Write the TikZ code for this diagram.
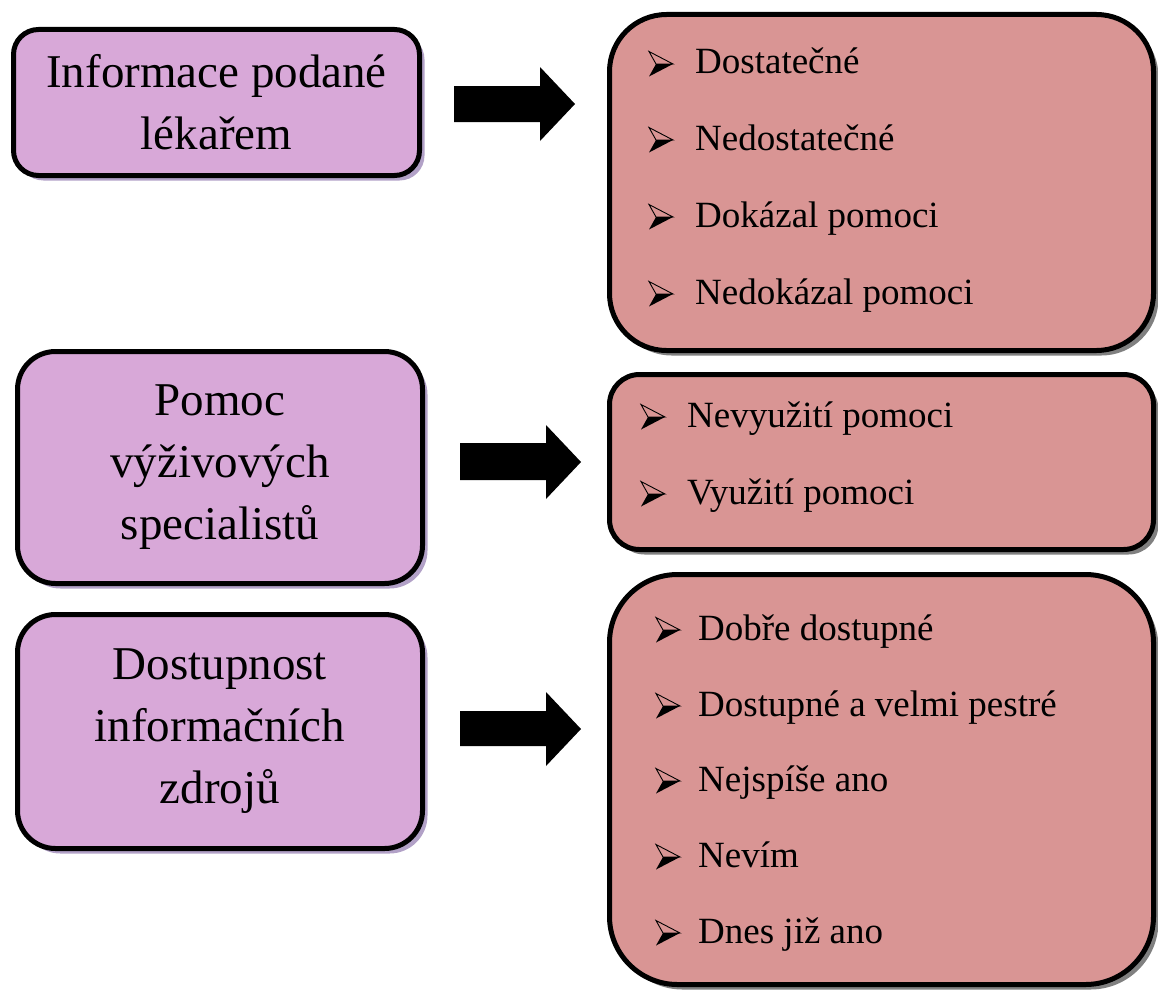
\documentclass[tikz,border=0pt]{standalone}
\usepackage{fontspec}
\setmainfont{Liberation Serif}
\usetikzlibrary{shadows}

\definecolor{topicfill}{HTML}{D8A8D8}
\definecolor{topicshadow}{HTML}{B2A1C7}
\definecolor{listfill}{HTML}{D99594}
\definecolor{listshadow}{HTML}{808080}

\tikzset{
  topic/.style={draw=black, line width=5pt, fill=topicfill, inner sep=0pt,
    align=center, font=\fontsize{47}{62}\selectfont,
    drop shadow={shadow xshift=5pt, shadow yshift=-5pt, fill=topicshadow, opacity=1}},
  listbox/.style={draw=black, line width=5pt, fill=listfill, inner sep=0pt,
    drop shadow={shadow xshift=5pt, shadow yshift=-5pt, fill=listshadow, opacity=1}},
  item/.style={anchor=base west, inner sep=0pt, font=\fontsize{37}{44}\selectfont},
  blockarrow/.style={fill=black, draw=none},
  % three-dimensional arrowhead bullet: lit upper half, dark lower half
  arrowhead/.pic={
    \draw[line width=0.9pt, line join=miter] (0,-12.5) -- (24,0) -- (7,0) -- cycle;
    \fill[black] (0,12.5) -- (24,0) -- (7,0) -- cycle;
  }
}

\begin{document}
\begin{tikzpicture}[x=1pt, y=-1pt]
\useasboundingbox (0,0) rectangle (1158,990);

% topics on the left
\node[topic, minimum width=406pt, minimum height=146pt, rounded corners=25pt]
  (t1) at (216.5,102.5) {Informace podané\\lékařem};
\node[topic, minimum width=405pt, minimum height=232pt, rounded corners=38pt]
  (t2) at (220,467.5) {Pomoc\\výživových\\specialistů};
\node[topic, minimum width=405pt, minimum height=234pt, rounded corners=38pt]
  (t3) at (220,731.5) {Dostupnost\\informačních\\zdrojů};

% answer lists on the right
\node[listbox, minimum width=544pt, minimum height=336pt, rounded corners=57pt]
  (l1) at (881.5,182.5) {};
\node[listbox, minimum width=544pt, minimum height=175pt, rounded corners=30pt]
  (l2) at (881.5,462) {};
\node[listbox, minimum width=544pt, minimum height=410pt, rounded corners=68pt]
  (l3) at (881.5,779.5) {};

% block arrows between topic and list
\fill[blockarrow] (454,86) -- (540,86) -- (540,67) -- (575,104) -- (540,141) -- (540,122) -- (454,122) -- cycle;
\fill[blockarrow] (460,443) -- (546,443) -- (546,425) -- (581,462) -- (546,499) -- (546,480) -- (460,480) -- cycle;
\fill[blockarrow] (460,711) -- (546,711) -- (546,692) -- (581,729) -- (546,766) -- (546,746) -- (460,746) -- cycle;

% items of the first list
\node[item] (a1) at (695,74)  {Dostatečné};
\node[item] (a2) at (695,150) {Nedostatečné};
\node[item] (a3) at (695,227) {Dokázal pomoci};
\node[item] (a4) at (695,304) {Nedokázal pomoci};
\foreach \n in {a1,a2,a3,a4}
  \pic at ([xshift=-46pt, yshift=10pt]\n.base west) {arrowhead};

% items of the second list
\node[item] (b1) at (687,427) {Nevyužití pomoci};
\node[item] (b2) at (687,504) {Využití pomoci};
\foreach \n in {b1,b2}
  \pic at ([xshift=-46pt, yshift=10pt]\n.base west) {arrowhead};

% items of the third list
\node[item] (c1) at (698,640) {Dobře dostupné};
\node[item] (c2) at (698,716) {Dostupné a velmi pestré};
\node[item] (c3) at (698,791) {Nejspíše ano};
\node[item] (c4) at (698,867) {Nevím};
\node[item] (c5) at (698,943) {Dnes již ano};
\foreach \n in {c1,c2,c3,c4,c5}
  \pic at ([xshift=-42pt, yshift=10pt]\n.base west) {arrowhead};
\end{tikzpicture}
\end{document}
